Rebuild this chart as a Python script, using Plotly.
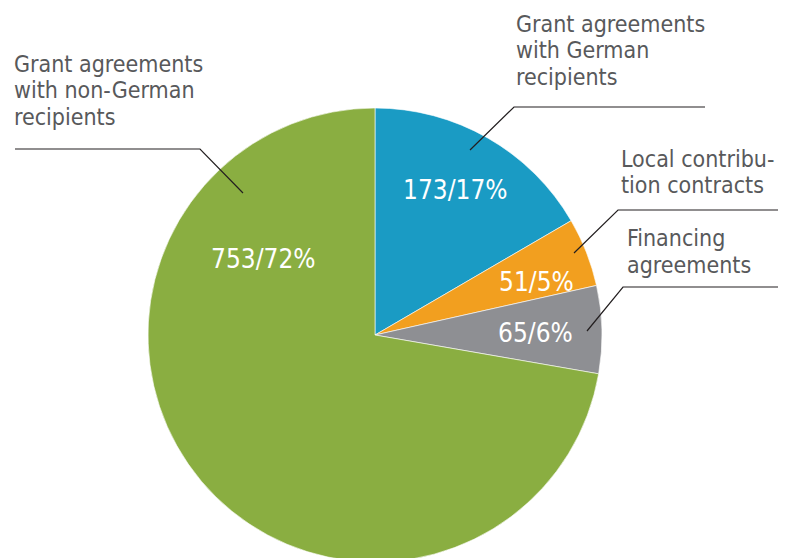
import plotly.graph_objects as go

categories = ["Grant agreements<br>with German<br>recipients",
              "Local contribu-<br>tion contracts",
              "Financing<br>agreements",
              "Grant agreements<br>with non-German<br>recipients"]
counts = [173, 51, 65, 753]
percents = [17, 5, 6, 72]
colors = ["#1a9bc4", "#f29f1f", "#8e8f93", "#8aae41"]

W, H = 786, 558
OFF = 8  # page body margin
def px(x): return (x - OFF) / W
def py(y): return 1 - (y - OFF) / H

fig = go.Figure()
fig.add_trace(go.Pie(
    values=counts, labels=[c.replace("<br>", " ") for c in categories],
    sort=False, direction="clockwise", rotation=0,
    marker=dict(colors=colors, line=dict(color="white", width=0.6)),
    textinfo="none", hoverinfo="skip", showlegend=False,
    domain=dict(x=[px(148), px(602)], y=[py(562), py(108)]),
))

FAM = "DejaVu Sans Condensed"
font_out = dict(family=FAM, size=23, color="#58595b")
font_in = dict(family=FAM, size=26, color="white")

# outside labels: x_left and first baseline (screen px), 26px line step
out_pos = [(514, 32.5), (619, 167), (625, 246.5), (12, 72.5)]
LSTEP = 26.5
for cat, (x, yb) in zip(categories, out_pos):
    for i, line in enumerate(cat.split("<br>")):
        y = yb + i * LSTEP - 8.5
        fig.add_annotation(text=line, x=px(x), y=py(y), xref="paper", yref="paper",
                           xanchor="left", yanchor="middle", align="left",
                           showarrow=False, font=font_out)

# inside value labels: (x_center, y_center) in screen px
in_pos = [(455.5, 190), (536.5, 282), (535, 333), (263, 258.5)]
for c, p, (x, y) in zip(counts, percents, in_pos):
    fig.add_annotation(text=f"{c}/{p}%", x=px(x), y=py(y), xref="paper", yref="paper",
                       xanchor="center", yanchor="middle", showarrow=False, font=font_in)

# leader lines (screen px)
leaders = [
    [(470, 150), (514, 107), (705, 107)],
    [(574, 253), (618, 210), (794, 210)],
    [(587, 331), (623, 287), (794, 287)],
    [(243, 193), (200, 149), (15, 149)],
]
for pts in leaders:
    path = "M " + " L ".join(f"{px(x):.5f} {py(y):.5f}" for x, y in pts)
    fig.add_shape(type="path", path=path, xref="paper", yref="paper",
                  line=dict(color="#231f20", width=1.2))

fig.update_layout(width=W, height=H, margin=dict(l=0, r=0, t=0, b=0),
                  paper_bgcolor="white", plot_bgcolor="white")
fig.write_html("out.html")
